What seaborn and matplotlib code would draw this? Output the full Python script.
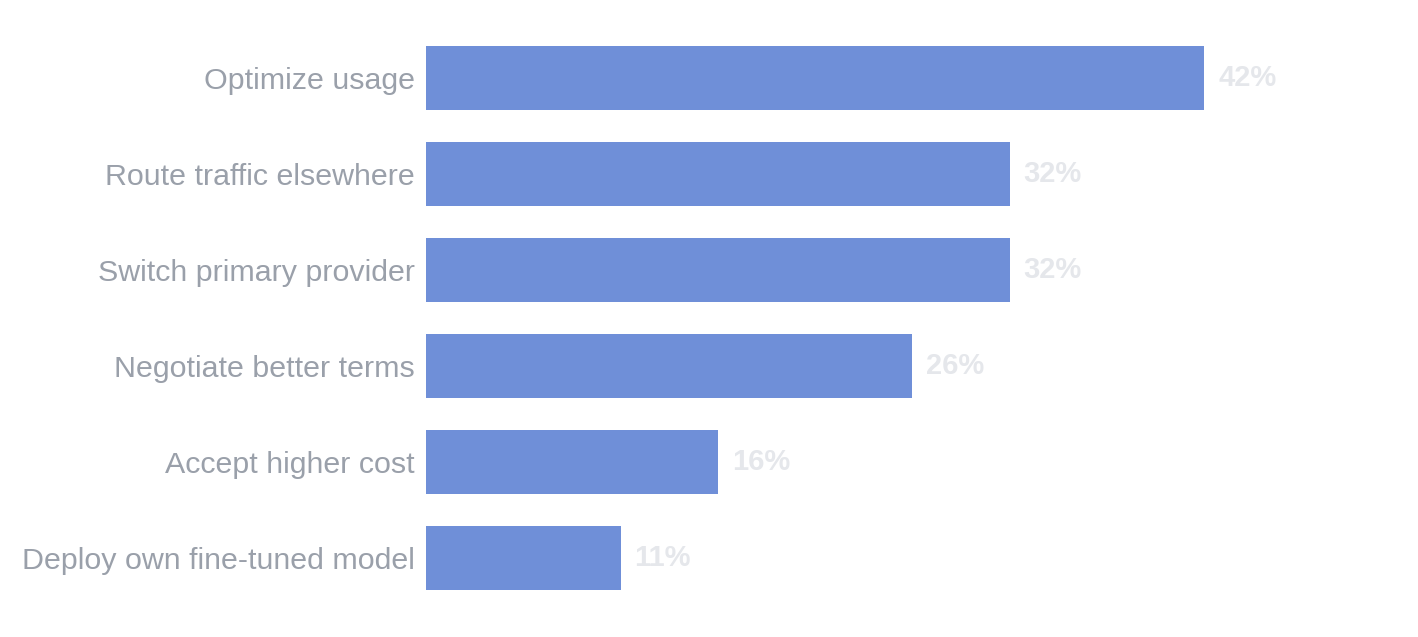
import matplotlib.pyplot as plt
import seaborn as sns
import pandas as pd

# survey answers, share of 19 respondents
actions = ["Optimize usage", "Route traffic elsewhere", "Switch primary provider",
           "Negotiate better terms", "Accept higher cost", "Deploy own fine-tuned model"]
shares = [8 / 19 * 100, 6 / 19 * 100, 6 / 19 * 100, 5 / 19 * 100, 3 / 19 * 100, 2 / 19 * 100]
labels = ["42%", "32%", "32%", "26%", "16%", "11%"]

df = pd.DataFrame({"action": actions, "share": shares})

sns.set_style("white")
plt.rcParams['font.family'] = ['Liberation Sans', 'DejaVu Sans']

fig = plt.figure(figsize=(14.18, 6.37), dpi=100)
ax = fig.add_axes([426 / 1418, 31 / 637, (1410 - 426) / 1418, 576 / 637])

sns.barplot(data=df, x="share", y="action", color="#6f8fd8", saturation=1,
            width=0.667, linewidth=0, ax=ax)

ax.set_xlim(0, (1410 - 426) / 18.48)
ax.set_ylim(5.5, -0.5)
for i, (v, t) in enumerate(zip(shares, labels)):
  ax.text(v + 14 / 18.48, i, t, va="center", ha="left", fontsize=21,
          fontweight="bold", color="#e5e7eb")

ax.set_xlabel("")
ax.set_ylabel("")
ax.set_xticks([])
ax.tick_params(axis="y", length=0, pad=8, labelsize=21.9, labelcolor="#9aa0aa")
sns.despine(ax=ax, left=True, bottom=True)

fig.savefig("out.png", dpi=100)
